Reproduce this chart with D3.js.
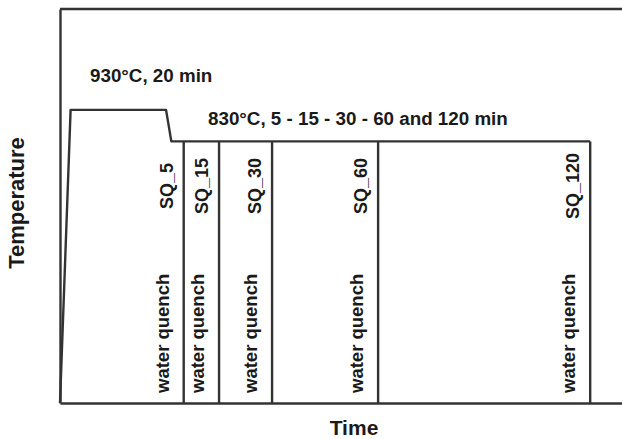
<!DOCTYPE html>
<html>
<head>
<meta charset="utf-8">
<script src="https://cdn.jsdelivr.net/npm/d3@7"></script>
<style>
  html, body { margin: 0; padding: 0; background: #fff; }
  svg { display: block; }
  text { font-family: "Liberation Sans", Arial, Helvetica, sans-serif; font-weight: bold; fill: #1a1a1a; }
</style>
</head>
<body>
<svg id="chart" width="622" height="439"></svg>
<script>
// ---- data (schematic heat-treatment profile) ----
const profileTimes = [0, 3, 30, 31.5, 150];          // min (schematic)
const profileTemps = [0, 930, 930, 830, 830];        // °C
const holdStart = 30;                                 // start of 830 °C hold
const holdDurations = [5, 15, 30, 60, 120];           // min
const sampleLabels = ["SQ_5", "SQ_15", "SQ_30", "SQ_60", "SQ_120"];
const quenchLabel = "water quench";
const austenitizeLabel = "930°C, 20 min";
const holdLabel = "830°C, 5 - 15 - 30 - 60 and 120 min";
const xTitle = "Time";
const yTitle = "Temperature";

// ---- layout ----
const W = 622, H = 439;
const m = { left: 60, right: 0, top: 9, bottom: 36 };
const svg = d3.select("#chart");

const x = d3.scaleLinear().domain([0, 159]).range([m.left, W - m.right]);
const y = d3.scaleLinear().domain([0, 1250]).range([H - m.bottom, m.top]);

const lineColor = "#333";
const lw = 2.4;

// axes (no ticks)
svg.append("g")
  .attr("transform", `translate(0,${y(0)})`)
  .call(d3.axisBottom(x).tickValues([]).tickSizeOuter(0))
  .call(g => g.select(".domain").attr("stroke", lineColor).attr("stroke-width", lw));
svg.append("g")
  .attr("transform", `translate(${x(0)},0)`)
  .call(d3.axisLeft(y).tickValues([]).tickSizeOuter(0))
  .call(g => g.select(".domain").attr("stroke", lineColor).attr("stroke-width", lw));
// top frame line
svg.append("path")
  .attr("d", d3.line()([[x(0), y(1250)], [x(159), y(1250)]]))
  .attr("stroke", lineColor).attr("stroke-width", lw).attr("fill", "none");

// profile
const pts = profileTimes.map((t, i) => [t, profileTemps[i]]);
svg.append("path")
  .datum(pts)
  .attr("d", d3.line().x(d => x(d[0])).y(d => y(d[1])))
  .attr("stroke", lineColor).attr("stroke-width", lw).attr("fill", "none")
  .attr("stroke-linejoin", "round");

// quench lines
const quenchTimes = holdDurations.map(d => holdStart + d);
svg.selectAll(".q").data(quenchTimes).enter().append("line")
  .attr("x1", d => x(d)).attr("x2", d => x(d))
  .attr("y1", y(830)).attr("y2", y(0))
  .attr("stroke", lineColor).attr("stroke-width", lw);

// sample labels
svg.selectAll(".sq").data(quenchTimes).enter().append("text")
  .attr("transform", d => `translate(${x(d) - 11},186) rotate(-90)`)
  .attr("text-anchor", "middle")
  .attr("font-size", 18)
  .text((d, i) => sampleLabels[i]);

// water quench labels
svg.selectAll(".wq").data(quenchTimes).enter().append("text")
  .attr("transform", d => `translate(${x(d) - 15},${y(0) - 10}) rotate(-90)`)
  .attr("text-anchor", "start")
  .attr("font-size", 18.5)
  .text(quenchLabel);

// annotations
svg.append("text").attr("x", 90).attr("y", 82).attr("font-size", 18.8).text(austenitizeLabel);
svg.append("text").attr("x", 208).attr("y", 125).attr("font-size", 18.8).text(holdLabel);

// axis titles
svg.append("text").attr("x", 354).attr("y", 435).attr("text-anchor", "middle")
  .attr("font-size", 21).text(xTitle);
svg.append("text").attr("transform", "translate(24,203) rotate(-90)")
  .attr("text-anchor", "middle").attr("font-size", 22).text(yTitle);
</script>
</body>
</html>
